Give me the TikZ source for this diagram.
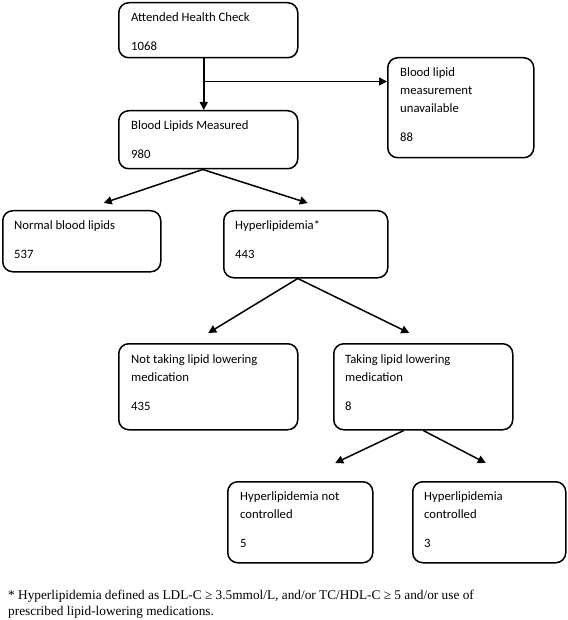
\documentclass[tikz,border=0pt]{standalone}
\usepackage{fontspec}
\setmainfont{Carlito}
\newfontfamily\notefont{Liberation Serif}
\usetikzlibrary{arrows.meta}
\begin{document}
\begin{tikzpicture}[x=1pt,y=-1pt,
  box/.style={draw, line width=1.5pt, rounded corners=10pt, anchor=north west, inner sep=0pt},
  txt/.style={anchor=north west, inner sep=0pt, align=left, font=\fontsize{12.7}{18}\selectfont},
  arr/.style={line width=1.5pt, -{Triangle[length=8pt,width=8pt]}}]
\useasboundingbox (0,0) rectangle (567,620);
% boxes
\node[box, minimum width=179pt, minimum height=55pt] (b1) at (118,2) {};
\node[box, minimum width=146pt, minimum height=100pt] (b3) at (387,57) {};
\node[box, minimum width=179pt, minimum height=58pt] (b2) at (118,110) {};
\node[box, minimum width=158pt, minimum height=61pt] (b4) at (2,210) {};
\node[box, minimum width=164pt, minimum height=67pt] (b5) at (223,210) {};
\node[box, minimum width=179pt, minimum height=86pt] (b6) at (118,343) {};
\node[box, minimum width=179pt, minimum height=86pt] (b7) at (333,343) {};
\node[box, minimum width=145pt, minimum height=81pt] (b8) at (227,481) {};
\node[box, minimum width=153pt, minimum height=81pt] (b9) at (412,481) {};
% texts
\node[txt] (t1) at (131,12) {Attended Health Check\\[11pt]1068};
\node[txt] (t3) at (400,67) {Blood lipid\\measurement\\unavailable\\[11pt]88};
\node[txt] (t2) at (131,120) {Blood Lipids Measured\\[11pt]980};
\node[txt] (t4) at (14,220) {Normal blood lipids\\[11pt]537};
\node[txt] (t5) at (235,220) {Hyperlipidemia*\\[11pt]443};
\node[txt] (t6) at (131,354) {Not taking lipid lowering\\medication\\[11pt]435};
\node[txt] (t7) at (345,354) {Taking lipid lowering\\medication\\[11pt]8};
\node[txt] (t8) at (240,491) {Hyperlipidemia not\\controlled\\[11pt]5};
\node[txt] (t9) at (424,491) {Hyperlipidemia\\controlled\\[11pt]3};
\node[anchor=north west, inner sep=0pt, align=left, font=\notefont\fontsize{13.3}{15.5}\selectfont] (fn) at (8,590)
  {* Hyperlipidemia defined as LDL-C ≥ 3.5mmol/L, and/or TC/HDL-C ≥ 5 and/or use of\\prescribed lipid-lowering medications.};
% connectors
\coordinate (br) at ([xshift=-4.5pt,yshift=-23pt]b1.south);
\draw[arr] ([xshift=-4.5pt]b1.south) -- ([xshift=-4.5pt]b2.north);
\draw[arr] (br) -- (br -| b3.west);
\draw[arr] ([xshift=-5.5pt]b2.south) -- ([xshift=22pt,yshift=7pt]b4.north);
\draw[arr] ([xshift=-5.5pt]b2.south) -- ([xshift=2pt,yshift=7pt]b5.north);
\draw[arr] ([xshift=-8pt]b5.south) -- ([xshift=0pt,yshift=10pt]b6.north);
\draw[arr] ([xshift=-8pt]b5.south) -- ([xshift=-14pt,yshift=10pt]b7.north);
\draw[arr] ([xshift=-19.5pt]b7.south) -- ([xshift=35pt,yshift=18pt]b8.north);
\draw[arr] ([xshift=0pt]b7.south) -- ([xshift=-3.5pt,yshift=18pt]b9.north);
\end{tikzpicture}
\end{document}
